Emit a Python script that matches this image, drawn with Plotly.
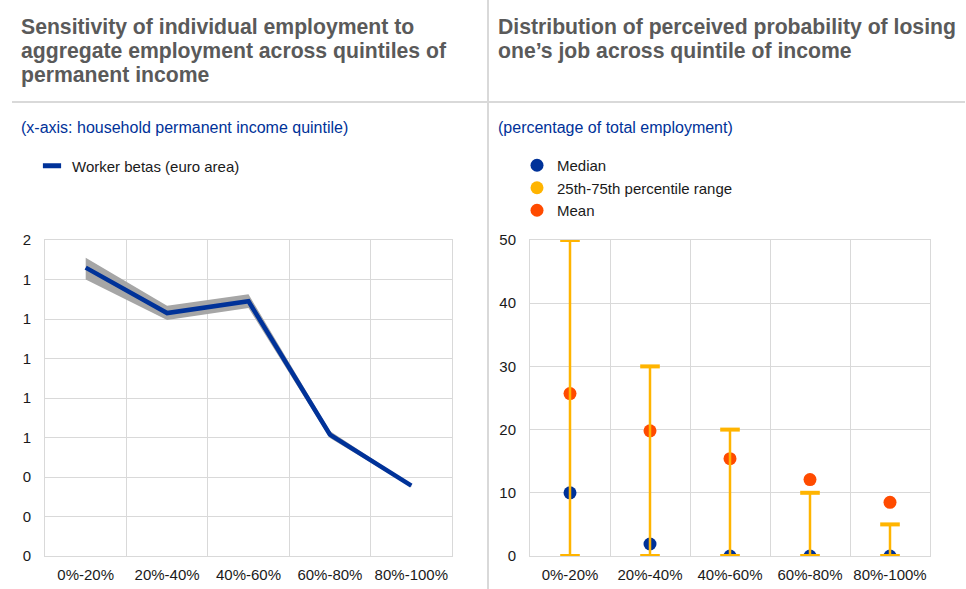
import plotly.graph_objects as go

# ---------------- data ----------------
quintiles = ["0%-20%", "20%-40%", "40%-60%", "60%-80%", "80%-100%"]

beta = [1.46, 1.23, 1.29, 0.615, 0.356]
beta_upper = [1.51, 1.267, 1.325, 0.633, 0.362]
beta_lower = [1.40, 1.195, 1.256, 0.597, 0.350]

left_ticks = [0, 0.2, 0.4, 0.6, 0.8, 1.0, 1.2, 1.4, 1.6]

median = [10, 1.9, 0, 0, 0]
mean = [25.7, 19.8, 15.4, 12.1, 8.5]
p25 = [0, 0, 0, 0, 0]
p75 = [50, 30, 20, 10, 5]

right_ticks = [0, 10, 20, 30, 40, 50]

# ---------------- style ----------------
W, H = 966, 589
FONT = "Liberation Sans, Arial, sans-serif"
BLUE = "#003299"
YELLOW = "#FFB400"
ORANGE = "#FF4B00"
GRAY_BAND = "#A6A6A6"
GRID = "#D9D9D9"
TITLE_C = "#5A5A5A"
TEXT_C = "#1A1A1A"


def px_x(x):
    return x / W


def px_y(y):
    return 1 - y / H


fig = go.Figure()

# ---- left panel: band + line ----
fig.add_trace(go.Scatter(x=quintiles, y=beta_upper, mode="lines", line=dict(width=0, color=GRAY_BAND),
                         showlegend=False, hoverinfo="skip", xaxis="x", yaxis="y"))
fig.add_trace(go.Scatter(x=quintiles, y=beta_lower, mode="lines", line=dict(width=0, color=GRAY_BAND),
                         fill="tonexty", fillcolor=GRAY_BAND, showlegend=False, hoverinfo="skip",
                         xaxis="x", yaxis="y"))
fig.add_trace(go.Scatter(x=quintiles, y=beta, mode="lines", line=dict(width=4.5, color=BLUE),
                         name="Worker betas (euro area)", showlegend=False, xaxis="x", yaxis="y"))
# legend entry (short thick bar)
fig.add_trace(go.Scatter(x=[None], y=[None], mode="markers", name="Worker betas (euro area)",
                         marker=dict(symbol="line-ew", size=13, line=dict(width=5, color=BLUE)),
                         legend="legend", xaxis="x", yaxis="y"))

# ---- right panel ----
fig.add_trace(go.Scatter(x=quintiles, y=median, mode="markers", name="Median",
                         marker=dict(size=13, color=BLUE), legend="legend2", legendrank=1,
                         xaxis="x2", yaxis="y2"))
fig.add_trace(go.Scatter(x=quintiles, y=mean, mode="markers", name="Mean",
                         marker=dict(size=13, color=ORANGE), legend="legend2", legendrank=3,
                         xaxis="x2", yaxis="y2"))
# range: vertical bar via error bars from p25 to p75
fig.add_trace(go.Scatter(x=quintiles, y=p25, mode="markers", name="25th-75th percentile range",
                         marker=dict(symbol="line-ew", size=14, line=dict(width=4, color=YELLOW), color=YELLOW),
                         error_y=dict(type="data", symmetric=False,
                                      array=[b - a for a, b in zip(p25, p75)],
                                      arrayminus=[0] * len(p25), color=YELLOW, thickness=2.5, width=0),
                         showlegend=False, xaxis="x2", yaxis="y2"))
fig.add_trace(go.Scatter(x=quintiles, y=p75, mode="markers", name="25th-75th percentile range",
                         marker=dict(symbol="line-ew", size=14, line=dict(width=4, color=YELLOW), color=YELLOW),
                         showlegend=False, xaxis="x2", yaxis="y2"))
fig.add_trace(go.Scatter(x=[None], y=[None], mode="markers", name="25th-75th percentile range",
                         marker=dict(size=13, color=YELLOW), legend="legend2", legendrank=2,
                         xaxis="x2", yaxis="y2"))

axis_common = dict(showgrid=True, gridcolor=GRID, gridwidth=1, showline=True, linecolor=GRID,
                   linewidth=1, mirror=True, zeroline=False, ticks="", automargin=False,
                   tickfont=dict(family=FONT, size=15, color=TEXT_C), fixedrange=True)

ydom = [px_y(556), px_y(240)]

fig.update_layout(
    width=W, height=H, autosize=False,
    margin=dict(l=0, r=0, t=0, b=0, pad=0, autoexpand=False),
    paper_bgcolor="white", plot_bgcolor="white",
    font=dict(family=FONT, size=15, color=TEXT_C),
    xaxis=dict(domain=[px_x(45), px_x(452)], type="category", range=[-0.5, 4.5], tickangle=0,
               tickson="boundaries", ticklabelstandoff=5, anchor="y", **axis_common),
    yaxis=dict(domain=ydom, range=[0, 1.6], tickvals=left_ticks, tickformat=".0f",
               ticklabelstandoff=10, anchor="x", **axis_common),
    xaxis2=dict(domain=[px_x(530), px_x(930)], type="category", range=[-0.5, 4.5], tickangle=0,
                tickson="boundaries", ticklabelstandoff=5, anchor="y2", **axis_common),
    yaxis2=dict(domain=ydom, range=[0, 50], tickvals=right_ticks,
                ticklabelstandoff=10, anchor="x2", **axis_common),
    legend=dict(x=px_x(32), y=px_y(166), xanchor="left", yanchor="middle",
                bgcolor="rgba(0,0,0,0)", font=dict(family=FONT, size=15, color=TEXT_C)),
    legend2=dict(x=px_x(517), y=px_y(188), xanchor="left", yanchor="middle",
                 bgcolor="rgba(0,0,0,0)", font=dict(family=FONT, size=15, color=TEXT_C),
                 traceorder="normal"),
    showlegend=True,
)

# ---- titles / subtitles ----
title_font = dict(family=FONT, size=21.2, color=TITLE_C)
left_title = ["<b>Sensitivity of individual employment to</b>",
              "<b>aggregate employment across quintiles of</b>",
              "<b>permanent income</b>"]
right_title = ["<b>Distribution of perceived probability of losing</b>",
               "<b>one\u2019s job across quintile of income</b>"]
line_y = [26.5, 51, 75.5]
ann = []
for t, yy in zip(left_title, line_y):
    ann.append(dict(text=t, x=px_x(19), y=px_y(yy), xref="paper", yref="paper",
                    xanchor="left", yanchor="middle", showarrow=False, font=title_font))
for t, yy in zip(right_title, line_y):
    ann.append(dict(text=t, x=px_x(496), y=px_y(yy), xref="paper", yref="paper",
                    xanchor="left", yanchor="middle", showarrow=False, font=title_font))
sub_font = dict(family=FONT, size=16, color=BLUE)
ann.append(dict(text="(x-axis: household permanent income quintile)", x=px_x(19), y=px_y(127),
                xref="paper", yref="paper", xanchor="left", yanchor="middle", showarrow=False, font=sub_font))
ann.append(dict(text="(percentage of total employment)", x=px_x(496), y=px_y(127),
                xref="paper", yref="paper", xanchor="left", yanchor="middle", showarrow=False, font=sub_font))
fig.update_layout(annotations=ann)

# ---- separators ----
fig.add_shape(type="line", xref="paper", yref="paper", x0=px_x(12), x1=px_x(965),
              y0=px_y(102), y1=px_y(102), line=dict(color=GRID, width=2))
fig.add_shape(type="line", xref="paper", yref="paper", x0=px_x(488), x1=px_x(488),
              y0=px_y(0), y1=px_y(589), line=dict(color=GRID, width=2))

fig.write_html("out.html", config={"displayModeBar": False},
               post_script="document.body.style.margin='0px';")
